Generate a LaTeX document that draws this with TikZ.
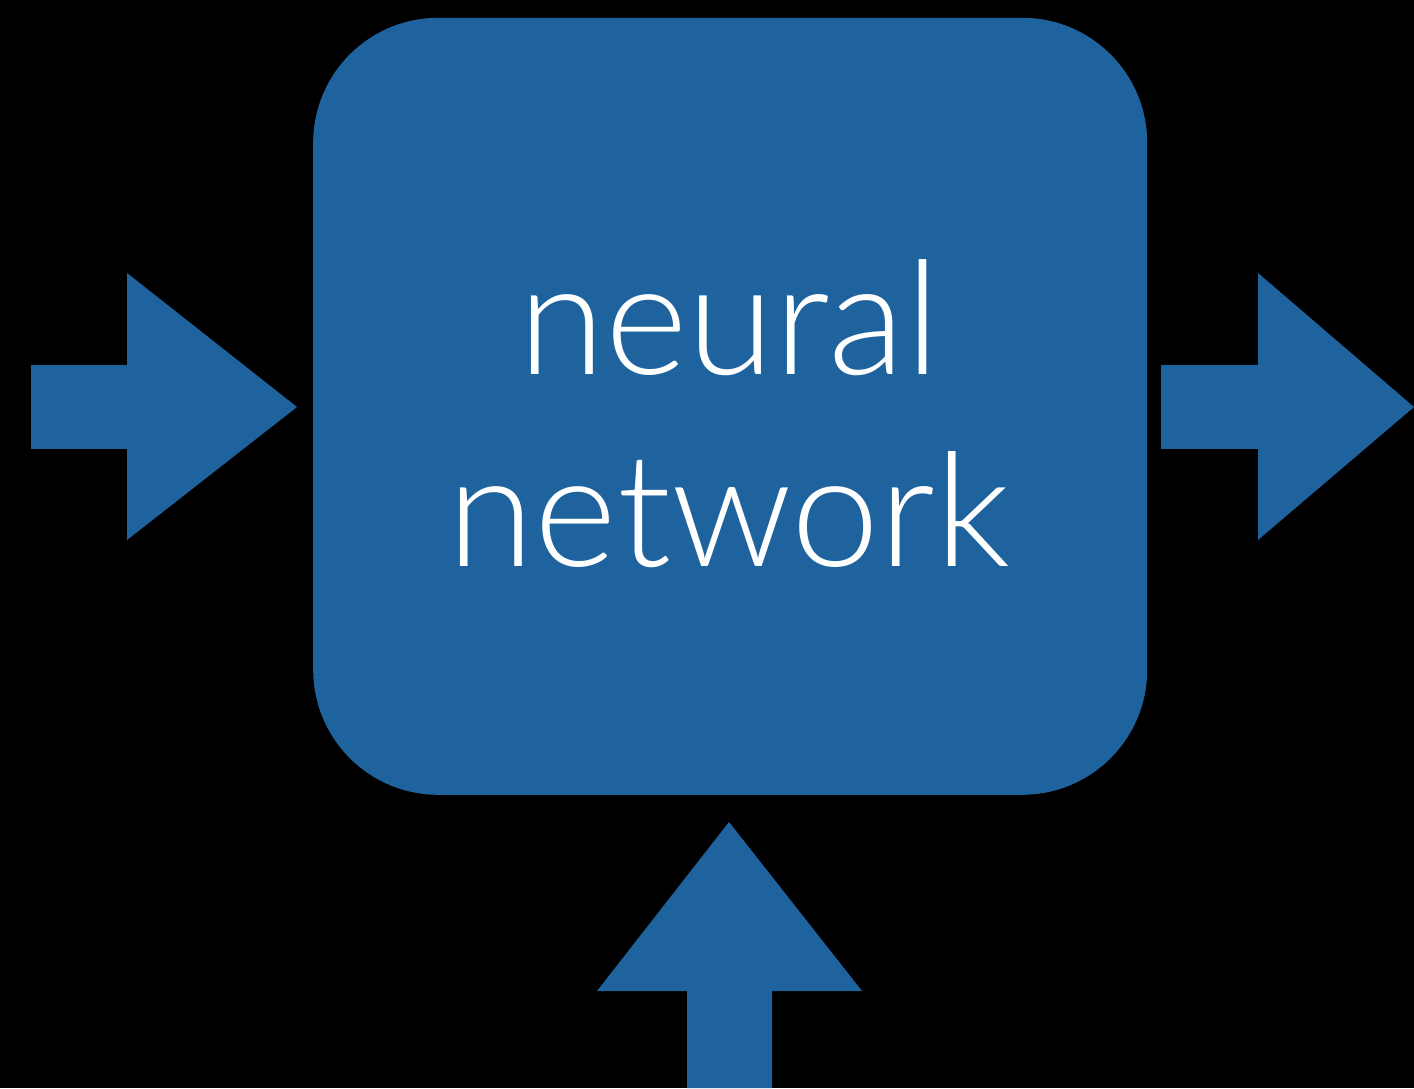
\documentclass[tikz,border=0pt]{standalone}
\usepackage{fontspec}
\setmainfont{Lato}[UprightFont={* Light}]
\definecolor{nnblue}{RGB}{31,99,158}
\begin{document}
\begin{tikzpicture}[x=1pt,y=1pt,
  bluebox/.style={fill=nnblue, draw=none},
  nnlabel/.style={text=white, inner sep=0pt, anchor=base, font=\fontsize{158}{190}\selectfont}]
\fill[black] (0,0) rectangle (1414,1088);
\useasboundingbox (0,0) rectangle (1414,1088);
% main box
\node[bluebox, rounded corners=125pt, minimum width=834pt, minimum height=777pt, inner sep=0pt, anchor=south west] (box) at (313,293) {};
\node[nnlabel] (l1) at (729,713) {neural};
\node[nnlabel] (l2) at (729,521) {network};
% left arrow
\fill[bluebox] (31,723) -- (127,723) -- (127,815) -- (297,681) -- (127,548) -- (127,639) -- (31,639) -- cycle;
% right arrow
\fill[bluebox] (1161,723) -- (1258,723) -- (1258,815) -- (1414,681) -- (1258,548) -- (1258,639) -- (1161,639) -- cycle;
% bottom arrow
\fill[bluebox] (687,0) -- (687,97) -- (597,97) -- (729,266) -- (862,97) -- (772,97) -- (772,0) -- cycle;
\end{tikzpicture}
\end{document}
